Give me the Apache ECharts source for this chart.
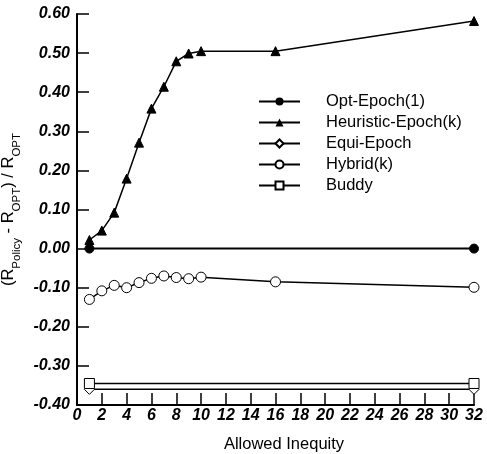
<!DOCTYPE html>
<html>
<head>
<meta charset="utf-8">
<script src="https://cdn.jsdelivr.net/npm/echarts@6/dist/echarts.min.js"></script>
<style>html,body{margin:0;padding:0;background:#fff}#c{width:487px;height:454px}</style>
</head>
<body>
<div id="c"></div>
<script>
const xTicks = [0,2,4,6,8,10,12,14,16,18,20,22,24,26,28,30,32];
const kValues = [1,2,3,4,5,6,7,8,9,10,16,32];
const optX = [1,32];
const optVals = [0,0];
const heurVals = [0.022,0.046,0.092,0.179,0.271,0.358,0.414,0.479,0.499,0.505,0.505,0.582];
const equiX = [1,32];
const equiVals = [-0.36,-0.36];
const hybridVals = [-0.130,-0.108,-0.094,-0.100,-0.087,-0.076,-0.070,-0.074,-0.077,-0.073,-0.085,-0.099];
const buddyX = [1,32];
const buddyVals = [-0.345,-0.345];

const pair = (xs, ys) => xs.map((x, i) => [x, ys[i]]);
const font = 'Arial, "Liberation Sans", sans-serif';
const base = {type:'line', color:'#000', lineStyle:{color:'#000', width:1.5}, symbolSize:9, z:3};

const chart = echarts.init(document.getElementById('c'));
chart.setOption({
  animation:false,
  backgroundColor:'#fff',
  grid:{left:77, right:13, top:14, bottom:49, containLabel:false, outerBoundsMode:'none'},
  legend:{
    left:258, top:93, padding:0, orient:'vertical', itemWidth:41, itemHeight:10, itemGap:4,
    textStyle:{fontFamily:font, fontSize:16.5, color:'#000', padding:[0,0,0,21], lineHeight:16},
    data:['Opt-Epoch(1)','Heuristic-Epoch(k)','Equi-Epoch','Hybrid(k)','Buddy']
  },
  xAxis:{
    type:'value', min:0, max:32, interval:2,
    name:'Allowed Inequity', nameLocation:'middle', nameGap:31,
    nameTextStyle:{fontFamily:font, fontSize:16.5, color:'#000', padding:[0,0,0,17]},
    axisLine:{onZero:false, lineStyle:{color:'#000', width:2}},
    axisTick:{inside:true, length:12, lineStyle:{color:'#000', width:1.5}},
    axisLabel:{fontFamily:font, fontSize:16, fontWeight:'bold', fontStyle:'italic', color:'#000', margin:3,
      formatter:v => xTicks.includes(v) ? String(v) : ''},
    splitLine:{show:false}
  },
  yAxis:{
    type:'value', min:-0.4, max:0.6, interval:0.1,
    name:'{n|(R}{s|Policy}{n| - R}{s|OPT}{n|) / R}{s|OPT}', nameLocation:'middle', nameGap:51,
    nameTextStyle:{fontFamily:font, color:'#000',
      rich:{n:{fontFamily:font, fontSize:16.5, color:'#000', lineHeight:20, verticalAlign:'middle'},
            s:{fontFamily:font, fontSize:11.5, color:'#000', lineHeight:11, verticalAlign:'bottom', padding:[0,0,-4,0]}}},
    axisLine:{show:true, onZero:false, lineStyle:{color:'#000', width:2}},
    axisTick:{show:true, inside:true, length:12, lineStyle:{color:'#000', width:1.5}},
    axisLabel:{fontFamily:font, fontSize:16, fontWeight:'bold', fontStyle:'italic', color:'#000', margin:7,
      formatter:v => v.toFixed(2)},
    splitLine:{show:false}
  },
  series:[
    Object.assign({}, base, {name:'Opt-Epoch(1)', data:pair(optX, optVals), symbol:'circle',
      lineStyle:{color:'#000', width:2}, itemStyle:{color:'#000', borderColor:'#000'}}),
    Object.assign({}, base, {name:'Heuristic-Epoch(k)', data:pair(kValues, heurVals), symbol:'triangle',
      itemStyle:{color:'#000', borderColor:'#000'}}),
    Object.assign({}, base, {name:'Equi-Epoch', data:pair(equiX, equiVals), symbol:'diamond', symbolSize:10,
      itemStyle:{color:'#fff', borderColor:'#000', borderWidth:1}}),
    Object.assign({}, base, {name:'Hybrid(k)', data:pair(kValues, hybridVals), symbol:'circle', symbolSize:10,
      itemStyle:{color:'#fff', borderColor:'#000', borderWidth:1}}),
    Object.assign({}, base, {name:'Buddy', data:pair(buddyX, buddyVals), symbol:'rect', symbolSize:10,
      itemStyle:{color:'#fff', borderColor:'#000', borderWidth:1}})
  ]
});
</script>
</body>
</html>
